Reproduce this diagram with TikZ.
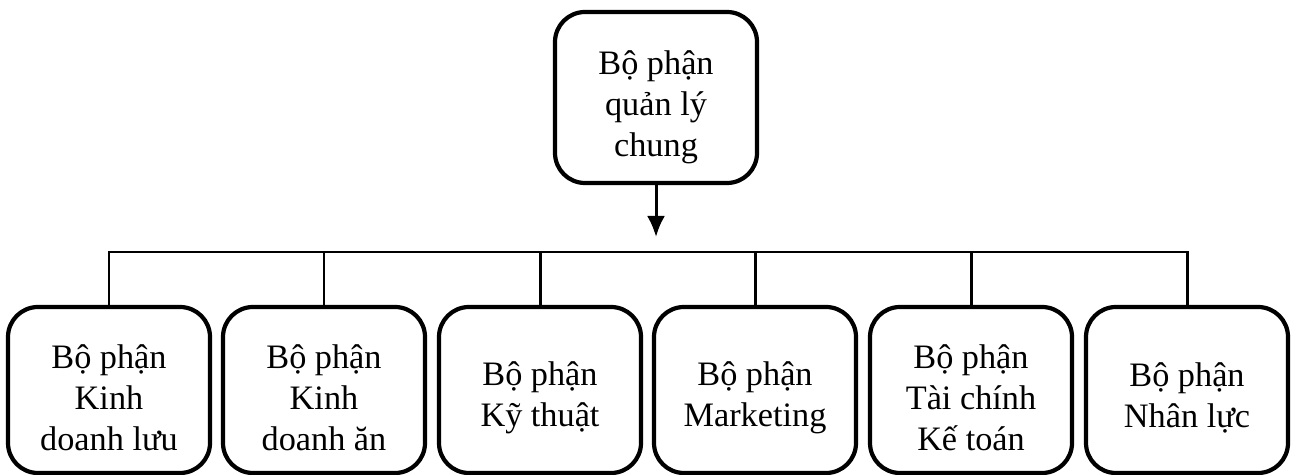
\documentclass[tikz,border=0pt]{standalone}
\usepackage{fontspec}
\setmainfont{Liberation Serif}
\usepackage{tikz}
\usetikzlibrary{arrows.meta,positioning}

\begin{document}
\begin{tikzpicture}[>=Latex,
    unit/.style={draw=black, rounded corners=0.6cm, line width=2.4pt,
      minimum width=4.04cm},
    label text/.style={align=center, font=\fontsize{19.5}{23.2}\selectfont},
    conn/.style={line width=1.7pt}]
    \useasboundingbox (0,0) rectangle (25.9,9.5);

    \node[unit, minimum height=3.42cm] (ql) at (13.12,7.55) {};
    \node[label text] (ql-t) at ([yshift=-0.2cm]ql.center) {Bộ phận\\quản lý\\chung};

    \foreach \x/\txt [count=\i] in {2.18/{Bộ phận\\Kinh\\doanh lưu},
        6.48/{Bộ phận\\Kinh\\doanh ăn},
        10.8/{Bộ phận\\Kỹ thuật},
        15.1/{Bộ phận\\Marketing},
        19.42/{Bộ phận\\Tài chính\\Kế toán},
        23.74/{Bộ phận\\Nhân lực}} {
      \node[unit, minimum height=3.32cm] (b\i) at (\x,1.7) {};
      \node[label text] (b\i-t) at ([yshift=-0.16cm]b\i.center) {\txt};
    }

    \coordinate (bus) at (0,4.46);
    \coordinate (tip) at (13.12,4.76);

    \draw[conn,-{Latex[length=4.2mm,width=3.6mm]}] (ql.south) -- (tip);
    \draw[conn] (b1.north) -- (b1.north |- bus) -- (b6.north |- bus) -- (b6.north);
    \foreach \i in {2,...,5} {
      \draw[conn] (b\i.north) -- (b\i.north |- bus);
    }
  \end{tikzpicture}
\end{document}
